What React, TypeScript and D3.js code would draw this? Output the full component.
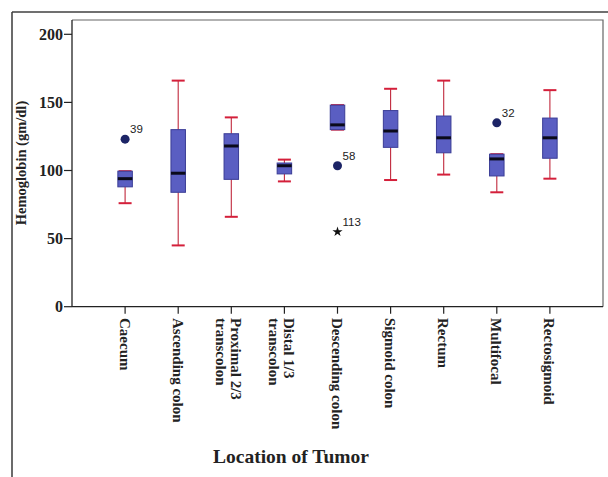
import { useMemo } from 'react'
import * as d3 from 'd3'

// locations along the x axis (label lines as printed)
const categories = [
  'Caecum', 'Ascending colon', 'Proximal 2/3 transcolon', 'Distal 1/3 transcolon',
  'Descending colon', 'Sigmoid colon', 'Rectum', 'Multifocal', 'Rectosigmoid',
]
const labelLines = [
  ['Caecum'], ['Ascending colon'], ['Proximal 2/3', 'transcolon'], ['Distal 1/3', 'transcolon'],
  ['Descending colon'], ['Sigmoid colon'], ['Rectum'], ['Multifocal'], ['Rectosigmoid'],
]

// box plot stats (gm/dl)
const whiskerLow = [76, 45, 66, 92, 130, 93, 97, 84, 94]
const q1 = [88, 84, 93.5, 97.5, 130, 117, 113, 96, 109]
const median = [94, 98, 118, 103.5, 133.5, 129, 124, 108.5, 124]
const q3 = [99.5, 130, 127, 105.5, 148, 144, 140, 112, 138.5]
const whiskerHigh = [99.5, 166, 139, 108, 148, 160, 166, 112, 159]

const outliers = [
  { cat: 'Caecum', value: 123, label: '39', kind: 'circle' },
  { cat: 'Descending colon', value: 103.5, label: '58', kind: 'circle' },
  { cat: 'Descending colon', value: 55, label: '113', kind: 'star' },
  { cat: 'Multifocal', value: 135, label: '32', kind: 'circle' },
]

const yTicks = [0, 50, 100, 150, 200]

const W = 608
const H = 477
const left = 72, right = 603, top = 20, bottom = 306.7

export default function App() {
  const x = useMemo(() => d3.scalePoint<string>().domain(categories).range([left, right]).padding(1), [])
  const y = useMemo(() => d3.scaleLinear().domain([0, 210.5]).range([bottom, top]), [])

  const boxW = 14.5
  const capW = 13
  const serif = '"Liberation Serif", "Times New Roman", serif'
  const sans = '"Liberation Sans", Arial, sans-serif'
  const star = d3.symbol(d3.symbolStar, 32)()

  return (
    <svg width={W} height={H} style={{ position: 'absolute', left: 0, top: 0, background: '#fff' }}>
      {/* outer frame */}
      <line x1={12} y1={12} x2={W} y2={12} stroke="#707070" strokeWidth={2} />
      <line x1={12} y1={12} x2={12} y2={H} stroke="#3a3a3a" strokeWidth={1.5} />

      {/* plot frame */}
      <path d={`M${left},${top}H${right}V${bottom}`} fill="none" stroke="#666" strokeWidth={1.2} />
      <line x1={left} y1={top} x2={left} y2={bottom} stroke="#222" strokeWidth={1.3} />
      <line x1={left} y1={bottom} x2={right} y2={bottom} stroke="#222" strokeWidth={1.3} />

      {/* y axis */}
      {yTicks.map(t => (
        <g key={t}>
          <line x1={left - 8} x2={left} y1={y(t)} y2={y(t)} stroke="#222" strokeWidth={1.2} />
          <text x={left - 9} y={y(t)} dy="0.35em" textAnchor="end" fontFamily={serif}
            fontWeight="bold" fontSize={16} fill="#222">{t}</text>
        </g>
      ))}
      <text transform={`translate(26,163) rotate(-90)`} textAnchor="middle" fontFamily={serif}
        fontWeight="bold" fontSize={14.5} fill="#222">Hemoglobin (gm/dl)</text>

      {/* x axis */}
      {categories.map((c, i) => {
        const cx = x(c)!
        const lines = labelLines[i]
        return (
          <g key={c}>
            <line x1={cx} x2={cx} y1={bottom} y2={bottom + 7} stroke="#222" strokeWidth={1.2} />
            <text transform={`translate(${cx},318) rotate(90)`} fontFamily={serif} fontWeight="bold"
              fontSize={15} fill="#222">
              {lines.map((ln, j) => (
                <tspan key={j} x={0} y={lines.length === 1 ? 5.5 : j * 15}>{ln}</tspan>
              ))}
            </text>
          </g>
        )
      })}
      <text x={291} y={463} textAnchor="middle" fontFamily={serif} fontWeight="bold" fontSize={19.5}
        fill="#222">Location of Tumor</text>

      {/* boxes */}
      {categories.map((c, i) => {
        const cx = x(c)!
        return (
          <g key={c}>
            <line x1={cx} x2={cx} y1={y(whiskerHigh[i])} y2={y(q3[i])} stroke="#c0283c" strokeWidth={1.1} />
            <line x1={cx} x2={cx} y1={y(q1[i])} y2={y(whiskerLow[i])} stroke="#c0283c" strokeWidth={1.1} />
            <line x1={cx - capW / 2} x2={cx + capW / 2} y1={y(whiskerHigh[i])} y2={y(whiskerHigh[i])}
              stroke="#d41f3a" strokeWidth={2} />
            <line x1={cx - capW / 2} x2={cx + capW / 2} y1={y(whiskerLow[i])} y2={y(whiskerLow[i])}
              stroke="#d41f3a" strokeWidth={2} />
            <rect x={cx - boxW / 2} y={y(q3[i])} width={boxW} height={y(q1[i]) - y(q3[i])}
              fill="#5a5ec2" stroke="#3a3c96" strokeWidth={1} />
            <line x1={cx - boxW / 2} x2={cx + boxW / 2} y1={y(median[i])} y2={y(median[i])}
              stroke="#0a0a1a" strokeWidth={3} />
          </g>
        )
      })}

      {/* outliers */}
      {outliers.map(o => {
        const cx = x(o.cat)!
        const cy = y(o.value)
        return (
          <g key={o.label}>
            {o.kind === 'circle'
              ? <circle cx={cx} cy={cy} r={4.5} fill="#1c2466" />
              : <path d={star!} transform={`translate(${cx},${cy})`} fill="#111" />}
            <text x={cx + 5} y={cy - 6} fontFamily={sans} fontSize={11.5} fill="#222">{o.label}</text>
          </g>
        )
      })}
    </svg>
  )
}
